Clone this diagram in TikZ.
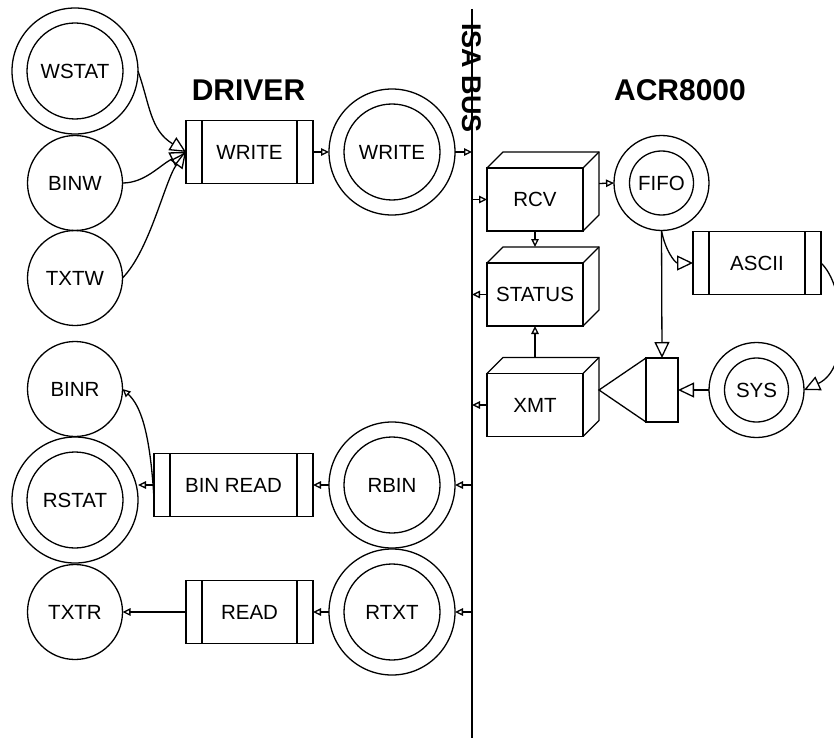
\documentclass[tikz,border=0pt]{standalone}
\usepackage{fontspec}
\setmainfont{Liberation Sans}
\usetikzlibrary{arrows.meta,calc}
\tikzset{
  lbl/.style={font=\fontsize{20.5}{24}\selectfont},
  proc/.style={draw, rectangle, minimum width=127pt, minimum height=63pt, lbl, inner sep=0pt},
  ent/.style={draw, circle, minimum size=95pt, lbl, inner sep=0pt},
  store/.style={draw, circle, minimum size=126pt, lbl, inner sep=0pt},
  cube/.style={draw, rectangle, minimum width=96pt, minimum height=63pt, lbl, inner sep=0pt},
  title/.style={font=\bfseries\fontsize{30}{36}\selectfont, inner sep=0pt},
  sa/.style={-{Triangle[open,length=8pt,width=7.5pt]}},
  ba/.style={-{Triangle[open,length=16pt,width=15pt]}},
}
\begin{document}
\begin{tikzpicture}[x=1pt,y=-1pt,line width=1.3pt,outer sep=0pt]
\useasboundingbox (0,0) rectangle (834,738);
% titles
\node[title] (driver) at (248.5,90) {DRIVER};
\node[title] (acr) at (680,90) {ACR8000};
\node[font=\bfseries\fontsize{27}{32}\selectfont, inner sep=0pt, rotate=-90] (isa) at (472,78) {ISA BUS};
\coordinate (bustop) at (472,9);
\coordinate (busbot) at (472,738);
\draw (bustop) -- (busbot);
% driver side
\node[store] (wstat) at (75,71) {WSTAT};
\node[ent] (binw) at (75,183) {BINW};
\node[ent] (txtw) at (75,278) {TXTW};
\node[proc] (writep) at (249.5,152) {WRITE};
\node[store] (writec) at (392,152) {WRITE};
\node[ent] (binr) at (75,389) {BINR};
\node[store] (rstat) at (75,500) {RSTAT};
\node[ent] (txtr) at (75,612) {TXTR};
\node[proc, minimum width=159pt] (binread) at (233.5,485) {BIN READ};
\node[store] (rbin) at (392,485) {RBIN};
\node[store] (rtxt) at (392,612) {RTXT};
\node[proc] (readp) at (249.5,612) {READ};
% ACR side
\node[cube] (rcv) at (535,199.5) {RCV};
\node[cube] (status) at (535,294.5) {STATUS};
\node[cube] (xmt) at (535,405) {XMT};
\node[ent] (fifo) at (661.5,183) {FIFO};
\node[proc, minimum width=128pt] (asciip) at (757,263) {ASCII};
\node[draw, rectangle, minimum width=32pt, minimum height=64pt, inner sep=0pt] (merge) at (662,390) {};
\node[ent] (sys) at (756.5,390) {SYS};
% inner circles
\foreach \n in {wstat,writec,rstat,rbin,rtxt} \draw (\n.center) circle[radius=48pt];
\foreach \n in {fifo,sys} \draw (\n.center) circle[radius=32pt];
% process side bars
\foreach \n in {writep,binread,readp,asciip} {
  \draw ([xshift=16pt]\n.north west) -- ([xshift=16pt]\n.south west);
  \draw ([xshift=-16pt]\n.north east) -- ([xshift=-16pt]\n.south east);
}
% cubes
\foreach \n in {rcv,status,xmt} {
  \draw (\n.north west) -- ++(16,-16) -- ++(96,0) -- ++(0,63) -- (\n.south east);
  \draw (\n.north east) -- ++(16,-16);
}
% merge triangle
\coordinate (apex) at ($(merge.west)+(-47,0)$);
\draw (merge.north west) -- (apex) -- (merge.south west);
% write path
\draw[ba] (wstat.east) .. controls (150,105) and (150,130) .. (writep.west);
\draw[ba] (binw.east) .. controls (145,183) and (160,165) .. (writep.west);
\draw[ba] (txtw.east) .. controls (150,250) and (165,180) .. (writep.west);
\draw[sa] (writep.east) -- (writec.west);
\draw[sa] (writec.east) -- (writec.east -| bustop);
\draw[sa] (rcv.west -| bustop) -- (rcv.west);
\draw[sa] (rcv.south) -- ($(status.north)+(0,-16)$);
\draw[sa] (status.west) -- (status.west -| bustop);
\draw[sa] ($(xmt.north)+(0,-16)$) -- (status.south);
\draw[sa] (xmt.west) -- (xmt.west -| bustop);
\draw[sa] ($(rcv.east)+(16,-16)$) -- (fifo.west);
\draw[ba] (fifo.south) .. controls (665,250) and (675,263) .. (asciip.west);
\draw[ba] (fifo.south) -- (merge.north);
\draw[ba] (sys.west) -- (merge.east);
\draw[ba] (asciip.east) .. controls (845,285) and (852,368) .. (sys.east);
% read path
\draw[sa] (rbin.east -| bustop) -- (rbin.east);
\draw[sa] (rtxt.east -| bustop) -- (rtxt.east);
\draw[sa] (rbin.west) -- (binread.east);
\draw[sa] (rtxt.west) -- (readp.east);
\draw[sa] (binread.west) -- (rstat.east |- binread.west);
\draw[sa] ([yshift=-14pt]binread.west) .. controls (150,430) and (140,405) .. (binr.east);
\draw[sa] (readp.west) -- (txtr.east);
\end{tikzpicture}
\end{document}
